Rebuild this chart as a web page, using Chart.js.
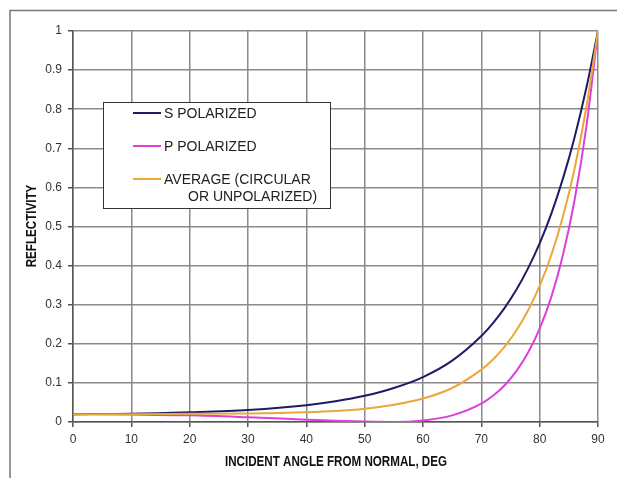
<!DOCTYPE html>
<html>
<head>
<meta charset="utf-8">
<script src="https://cdn.jsdelivr.net/npm/chart.js@4/dist/chart.umd.min.js"></script>
<style>
    html, body { margin: 0; padding: 0; background: #fff; }
    #wrap { width: 617px; height: 478px; position: relative; }
</style>
</head>
<body>
<div id="wrap"><canvas id="reflectivityChart" width="617" height="478"></canvas></div>
<script>
// incident angle (deg) and reflectivity
const angles = [0, 10, 20, 30, 40, 45, 50, 55, 60, 65, 70, 72, 74, 76, 78, 80, 82, 84, 86, 88, 90];
const sPolarized = [0.020, 0.021, 0.025, 0.031, 0.043, 0.053, 0.067, 0.087, 0.115, 0.157, 0.220, 0.253, 0.292, 0.338, 0.393, 0.457, 0.533, 0.623, 0.729, 0.854, 1.0];
const pPolarized = [0.020, 0.019, 0.017, 0.012, 0.006, 0.003, 0.001, 0.000, 0.004, 0.017, 0.047, 0.067, 0.094, 0.130, 0.177, 0.239, 0.320, 0.428, 0.569, 0.755, 1.0];
const average = [0.020, 0.020, 0.021, 0.022, 0.025, 0.028, 0.034, 0.044, 0.060, 0.087, 0.134, 0.160, 0.193, 0.234, 0.285, 0.348, 0.427, 0.526, 0.649, 0.805, 1.0];

const xTicks = [0, 10, 20, 30, 40, 50, 60, 70, 80, 90];
const yTicks = [0, 0.1, 0.2, 0.3, 0.4, 0.5, 0.6, 0.7, 0.8, 0.9, 1];
const yTickLabels = ["0", "0.1", "0.2", "0.3", "0.4", "0.5", "0.6", "0.7", "0.8", "0.9", "1"];

const seriesLabels = ["S POLARIZED", "P POLARIZED", "AVERAGE (CIRCULAR"];
const xTitle = "INCIDENT ANGLE FROM NORMAL, DEG";
const yTitle = "REFLECTIVITY";

const FONT = "'Liberation Sans', Arial, sans-serif";

function pts(ys) {
    return angles.map((a, i) => ({ x: a, y: ys[i] }));
}

// frame, legend box and axis titles drawn straight on the canvas
const extras = {
    id: "extras",
    beforeDraw(chart) {
        const c = chart.ctx;
        c.save();
        c.fillStyle = "#fff";
        c.fillRect(0, 0, chart.width, chart.height);
        c.strokeStyle = "#777";
        c.lineWidth = 1.5;
        c.beginPath();
        c.moveTo(617, 10.5);
        c.lineTo(10, 10.5);
        c.lineTo(10, 478);
        c.stroke();
        c.restore();
    },
    afterDraw(chart) {
        const c = chart.ctx;
        c.save();
        // legend
        c.fillStyle = "#fff";
        c.fillRect(103, 102, 228, 106);
        c.strokeStyle = "#333";
        c.lineWidth = 1;
        c.strokeRect(103.5, 102.5, 227, 106);
        const rows = [113, 146, 179];
        c.font = "14px " + FONT;
        c.textBaseline = "middle";
        chart.data.datasets.forEach((ds, i) => {
            c.strokeStyle = ds.borderColor;
            c.lineWidth = 2;
            c.beginPath();
            c.moveTo(133, rows[i]);
            c.lineTo(161, rows[i]);
            c.stroke();
            c.fillStyle = "#222";
            c.fillText(ds.label, 164, rows[i] + 1);
        });
        c.fillText("OR UNPOLARIZED)", 188, 197);

        // axis titles (condensed bold as in the source)
        c.fillStyle = "#111";
        c.font = "bold 14px " + FONT;
        c.textAlign = "center";
        c.save();
        c.translate(336, 462);
        c.scale(0.83, 1);
        c.fillText(xTitle, 0, 0);
        c.restore();
        c.save();
        c.translate(32, 226);
        c.rotate(-Math.PI / 2);
        c.scale(0.83, 1);
        c.fillText(yTitle, 0, 0);
        c.restore();
        c.restore();
    }
};

const ctx = document.getElementById("reflectivityChart").getContext("2d");
new Chart(ctx, {
    type: "line",
    data: {
        datasets: [
            {
                label: seriesLabels[0],
                data: pts(sPolarized),
                borderColor: "#1c1c66",
                borderWidth: 2,
                order: 1
            },
            {
                label: seriesLabels[1],
                data: pts(pPolarized),
                borderColor: "#dd3fdd",
                borderWidth: 2,
                order: 2
            },
            {
                label: seriesLabels[2],
                data: pts(average),
                borderColor: "#eba83a",
                borderWidth: 2,
                order: 0
            }
        ]
    },
    options: {
        responsive: false,
        animation: false,
        events: [],
        elements: {
            point: { radius: 0 },
            line: { cubicInterpolationMode: "monotone", fill: false }
        },
        layout: { padding: { top: 31, right: 19, left: 0, bottom: 0 } },
        plugins: {
            legend: { display: false },
            tooltip: { enabled: false }
        },
        scales: {
            x: {
                type: "linear",
                min: 0,
                max: 90,
                afterBuildTicks: (s) => { s.ticks = xTicks.map((v) => ({ value: v })); },
                afterFit: (s) => { s.height = 56; },
                ticks: {
                    color: "#333",
                    font: { family: FONT, size: 12 },
                    padding: 5
                },
                grid: { color: "#8a8a8a", lineWidth: 1.5, tickLength: 5, tickColor: "#555" },
                border: { color: "#555", width: 1.5 }
            },
            y: {
                type: "linear",
                min: 0,
                max: 1,
                afterBuildTicks: (s) => { s.ticks = yTicks.map((v) => ({ value: v })); },
                afterFit: (s) => { s.width = 73; },
                ticks: {
                    color: "#333",
                    font: { family: FONT, size: 12 },
                    padding: 6,
                    callback: (v) => yTickLabels[yTicks.indexOf(v)] ?? ""
                },
                grid: { color: "#8a8a8a", lineWidth: 1.5, tickLength: 5, tickColor: "#555" },
                border: { color: "#555", width: 1.5 }
            }
        }
    },
    plugins: [extras]
});
</script>
</body>
</html>
